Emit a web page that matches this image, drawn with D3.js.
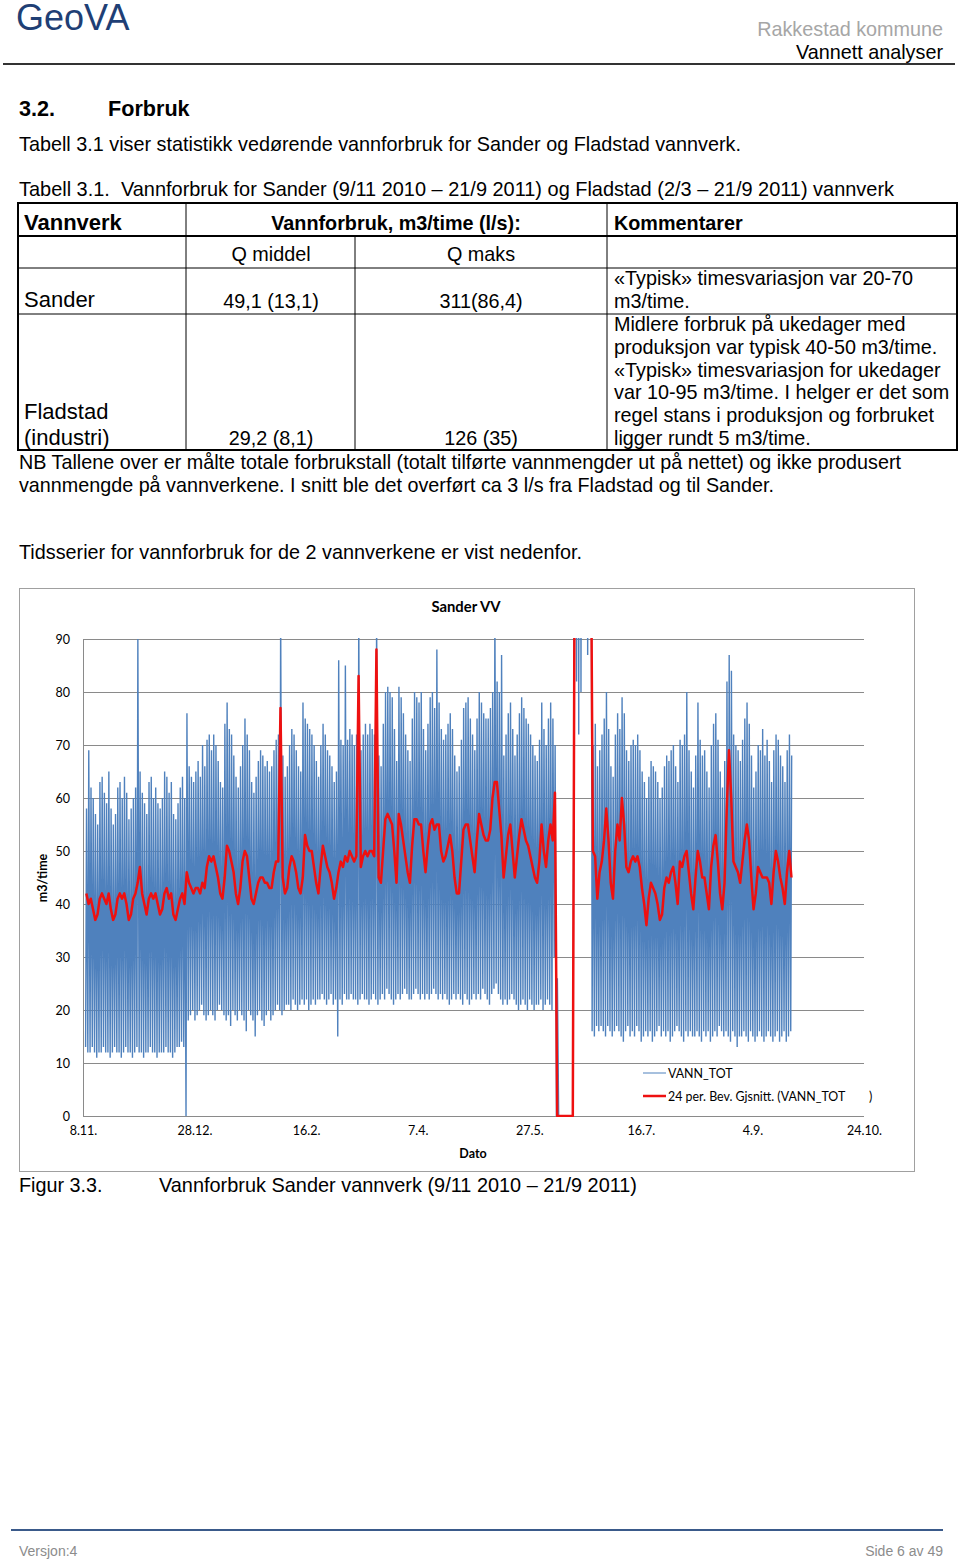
<!DOCTYPE html>
<html><head><meta charset="utf-8">
<script src="https://cdn.jsdelivr.net/npm/d3@7/dist/d3.min.js"></script>
<style>
html,body{margin:0;padding:0;background:#fff;}
svg{display:block;}
.doc{font-family:"Liberation Sans",Arial,sans-serif;fill:#000;}
.doc text{white-space:pre;}
.chart text{font-family:Lato,"Open Sans",sans-serif;}
</style></head>
<body>
<svg id="page" width="960" height="1560"></svg>
<script>
// ---------- DATA ----------
// Sander VV, hourly flow summarised per day from 9.11.2010 (day 1) to 21.9.2011 (day 317), m3/time
const startDate = "2010-11-09";
// daily night minimum of VANN_TOT
const vannMin = [
 13,12,12,13,12,11,12,  12,13,12,12,11,12,13,  12,12,11,12,13,12,12,  11,12,13,12,12,11,12,
 12,13,12,12,11,12,12,  12,13,12,12,11,12,13,  13,14,13,0,18,19,20,   18,19,20,21,19,18,19,
 20,19,18,20,21,20,19,  18,19,17,20,19,18,20,  19,18,16,20,19,18,15,  19,20,18,17,19,20,18,
 19,20,21,20,19,20,21,  21,20,22,21,20,21,22,  21,22,20,21,22,21,22,  22,23,22,21,22,23,21,
 22,15,22,21,23,22,22,  23,22,22,21,22,23,22,  22,21,22,23,22,21,22,  23,22,24,23,22,21,22,
 23,22,23,24,23,22,22,  23,24,23,22,23,22,23,  22,23,24,23,22,23,22,  23,22,21,22,23,22,23,
 22,21,23,22,21,22,23,  22,23,22,24,23,22,21,  23,24,25,23,22,21,22,  21,22,23,22,21,20,21,
 22,21,20,22,21,20,21,  21,22,20,21,22,21,20,  30,0,0,0,0,0,0,        0,0,110,82,72,80,120,
 140,87,100,16,15,17,16, 17,16,15,17,16,15,16, 17,16,15,14,16,17,15,  16,15,17,16,14,15,16,
 15,16,14,15,16,17,15,  16,15,16,14,15,16,17,  16,15,14,16,15,16,15,  15,16,15,14,16,15,16,
 14,15,16,15,17,16,15,  16,15,14,16,15,13,15,  15,16,15,14,16,15,14,  15,16,15,14,15,16,15,
 14,15,16,14,15,16,14,  15,16
];
// daily peak of VANN_TOT
const vannMax = [
 58,69,62,60,57,55,63,  64,61,59,65,58,55,57,  62,63,60,64,61,56,58,  60,62,90,65,61,59,57,
 63,64,60,62,59,58,60,  65,64,61,63,57,56,59,  62,64,60,76,66,64,63,  65,67,64,70,66,71,72,
 69,72,70,67,63,62,74,  78,73,72,68,64,62,66,  70,75,72,69,63,61,64,  67,69,68,66,67,65,66,
 69,71,72,95,68,64,66,  70,73,72,69,66,65,78,  75,74,73,72,70,67,64,  70,74,72,69,68,66,63,
 65,86,71,70,85,71,73,  72,70,72,95,69,72,74,  72,74,73,72,95,68,66,  74,80,81,80,79,73,67,
 81,79,76,72,69,67,75,  80,79,78,80,73,69,74,  79,80,77,88,78,73,71,  72,74,76,73,68,65,66,
 71,77,78,79,75,72,69,  75,80,78,76,75,75,77,  80,95,82,80,87,68,72,  76,78,73,68,72,76,79,
 77,75,74,72,70,68,67,  71,78,73,70,75,78,75,  70,26,0,0,0,0,0,       0,0,180,200,311,190,210,
 230,160,170,70,74,66,69, 72,75,80,73,66,64,72, 76,73,79,76,69,67,70, 71,70,72,69,65,63,60,
 64,67,66,65,63,60,62,  66,68,67,69,70,66,63,  71,70,72,80,69,65,62,  68,78,71,68,69,65,62,
 70,74,76,71,65,62,67,  82,87,84,72,70,69,67,  71,75,78,74,68,62,65,  70,69,73,68,71,67,63,
 69,72,71,68,66,63,69,  72,68
];
// 24 per. moving average (daily reading)
const snitt = [
 42,40,41,39,37,38,41,  42,41,40,42,39,37,38,  41,42,41,42,40,37,38,  41,42,44,47,42,40,38,
 41,42,41,42,40,38,39,  42,43,41,42,38,37,39,  41,42,40,46,44,43,42,  43,43,42,44,43,47,49,
 48,49,47,45,42,41,45,  51,50,48,46,42,40,43,  48,50,49,45,41,40,42,  44,45,45,44,44,43,43,
 46,48,48,77,45,42,43,  47,49,48,46,43,42,45,  53,51,50,50,47,44,42,  47,51,49,47,46,44,41,
 43,46,48,47,49,48,50,  49,48,49,83,47,49,50,  49,50,50,49,88,45,44,  50,56,57,56,55,50,44,
 57,55,52,49,46,44,51,  56,56,55,55,50,46,51,  55,56,54,55,55,50,48,  49,51,53,50,45,42,42,
 48,54,55,55,52,49,46,  52,57,55,53,52,52,54,  60,63,63,58,53,45,49,  53,55,50,45,49,53,56,
 54,52,51,49,47,45,44,  48,55,50,47,52,55,52,  61,0,0,0,0,0,0,        0,0,130,140,150,135,145,
 150,140,120,50,49,41,46, 48,52,58,52,44,41,50, 55,52,60,55,47,46,48, 49,48,49,47,43,40,36,
 41,44,43,42,40,37,38,  43,45,44,46,47,44,40,  48,47,49,50,46,42,39,  45,50,48,45,45,42,39,
 47,51,53,48,42,39,44,  58,69,60,48,47,46,44,  48,52,55,52,45,39,42,  47,46,45,45,45,44,40,
 46,50,48,45,43,40,46,  50,45
];
const yTicks = [0,10,20,30,40,50,60,70,80,90];
const xTickDates = ["2010-11-08","2010-12-28","2011-02-16","2011-04-07","2011-05-27","2011-07-16","2011-09-04","2011-10-24"];
const seriesNames = ["VANN_TOT","24 per. Bev. Gjsnitt. (VANN_TOT"];

// ---------- PAGE ----------
const svg = d3.select("#page");
const doc = svg.append("g").attr("class","doc");
const FS = 19.8;
function txt(x,y,s,opts={}){
  const t = doc.append("text").attr("x",x).attr("y",y).text(s)
    .attr("font-size",opts.size||FS);
  if(opts.weight) t.attr("font-weight",opts.weight);
  if(opts.fill) t.style("fill",opts.fill);
  if(opts.anchor) t.attr("text-anchor",opts.anchor);
  if(opts.len) t.attr("textLength",opts.len).attr("lengthAdjust","spacingAndGlyphs");
  return t;
}
// header
txt(16,30,"GeoVA",{size:36,fill:"#1f3f75"});
txt(943,36,"Rakkestad kommune",{fill:"#a6a6a6",anchor:"end"});
txt(943,59,"Vannett analyser",{anchor:"end"});
doc.append("line").attr("x1",3).attr("x2",955).attr("y1",64).attr("y2",64).attr("stroke","#333").attr("stroke-width",2);

txt(19,116,"3.2.",{size:21.6,weight:"bold"});
txt(108,116,"Forbruk",{size:21.6,weight:"bold"});
txt(19,151,"Tabell 3.1 viser statistikk vedørende vannforbruk for Sander og Fladstad vannverk.",{len:722});
txt(19,196,"Tabell 3.1.  Vannforbruk for Sander (9/11 2010 – 21/9 2011) og Fladstad (2/3 – 21/9 2011) vannverk",{len:875});

// table
const tl = doc.append("g").attr("stroke","#000").attr("fill","none");
function ln(x1,y1,x2,y2,w){tl.append("line").attr("x1",x1).attr("y1",y1).attr("x2",x2).attr("y2",y2).attr("stroke-width",w);}
ln(17,203,958,203,2); ln(17,236,958,236,2); ln(18,268,957,268,1); ln(18,314,957,314,1); ln(17,450,958,450,2);
ln(18,203,18,450,2); ln(957,203,957,450,2); ln(186,203,186,450,1); ln(607,203,607,450,1); ln(355,236,355,450,1);
txt(24,230,"Vannverk",{size:22,weight:"bold"});
txt(396,230,"Vannforbruk, m3/time (l/s):",{weight:"bold",anchor:"middle"});
txt(614,230,"Kommentarer",{weight:"bold"});
txt(271,261,"Q middel",{anchor:"middle"});
txt(481,261,"Q maks",{anchor:"middle"});
txt(24,307,"Sander",{size:22});
txt(271,308,"49,1 (13,1)",{anchor:"middle"});
txt(481,308,"311(86,4)",{anchor:"middle"});
txt(614,285,"«Typisk» timesvariasjon var 20-70");
txt(614,308,"m3/time.");
txt(24,419,"Fladstad",{size:22});
txt(24,445,"(industri)",{size:22});
txt(271,445,"29,2 (8,1)",{anchor:"middle"});
txt(481,445,"126 (35)",{anchor:"middle"});
["Midlere forbruk på ukedager med","produksjon var typisk 40-50 m3/time.","«Typisk» timesvariasjon for ukedager",
 "var 10-95 m3/time. I helger er det som","regel stans i produksjon og forbruket","ligger rundt 5 m3/time."]
 .forEach((s,i)=>txt(614,331+i*22.8,s));
txt(19,469,"NB Tallene over er målte totale forbrukstall (totalt tilførte vannmengder ut på nettet) og ikke produsert",{len:882});
txt(19,492,"vannmengde på vannverkene. I snitt ble det overført ca 3 l/s fra Fladstad og til Sander.",{len:755});
txt(19,559,"Tidsserier for vannforbruk for de 2 vannverkene er vist nedenfor.",{len:563});
txt(19,1192,"Figur 3.3.");
txt(159,1192,"Vannforbruk Sander vannverk (9/11 2010 – 21/9 2011)",{len:478});
// footer
doc.append("line").attr("x1",11).attr("x2",943).attr("y1",1530).attr("y2",1530).attr("stroke","#3a5a8a").attr("stroke-width",2);
txt(19,1556,"Versjon:4",{size:14,fill:"#8c8c8c"});
txt(943,1556,"Side 6 av 49",{size:14,fill:"#8c8c8c",anchor:"end"});

// ---------- CHART ----------
const ch = svg.append("g").attr("class","chart");
ch.append("rect").attr("x",19.5).attr("y",588.5).attr("width",895).attr("height",583)
  .attr("fill","#fff").attr("stroke","#a0a0a0").attr("stroke-width",1);
const plot = {l:83,r:864,t:639,b:1116};
const parse = d3.utcParse("%Y-%m-%d");
const x = d3.scaleUtc().domain([parse(xTickDates[0]),parse(xTickDates[xTickDates.length-1])]).range([plot.l,plot.r]);
const y = d3.scaleLinear().domain([0,90]).range([plot.b,plot.t]);

// gridlines
ch.append("g").selectAll("line").data(yTicks).join("line")
  .attr("x1",plot.l).attr("x2",plot.r).attr("y1",d=>Math.round(y(d))+0.5).attr("y2",d=>Math.round(y(d))+0.5)
  .attr("stroke","#8a8a8a").attr("stroke-width",1);
ch.append("line").attr("x1",plot.l+0.5).attr("x2",plot.l+0.5).attr("y1",plot.t).attr("y2",plot.b)
  .attr("stroke","#8a8a8a");

// y axis labels
const yAx = ch.append("g").attr("transform",`translate(${plot.l},0)`)
  .call(d3.axisLeft(y).tickValues(yTicks).tickSize(0).tickPadding(13));
yAx.select(".domain").remove();
yAx.selectAll("text").attr("font-size",12.5).attr("fill","#000").attr("font-family","Lato,sans-serif");
// x axis labels
const xAx = ch.append("g").attr("transform",`translate(0,${plot.b})`)
  .call(d3.axisBottom(x).tickValues(xTickDates.map(parse)).tickFormat(d3.utcFormat("%-d.%-m.")).tickSize(0).tickPadding(10));
xAx.select(".domain").remove();
xAx.selectAll("text").attr("font-size",12.5).attr("fill","#000").attr("font-family","Lato,sans-serif");

// clip
svg.append("defs").append("clipPath").attr("id","pc").append("rect")
  .attr("x",plot.l).attr("y",plot.t-1).attr("width",plot.r-plot.l).attr("height",plot.b-plot.t+2);

const day0 = parse(startDate);
const HOUR = 3600*1000, DAY = 24*HOUR;
const bluePts = [];
vannMin.forEach((v,i)=>{
  bluePts.push([new Date(+day0 + i*DAY + 4*HOUR), v]);
  bluePts.push([new Date(+day0 + i*DAY + 14*HOUR), vannMax[i]]);
});
const redPts = snitt.map((v,i)=>[new Date(+day0 + i*DAY + 12*HOUR), v]);
const line = d3.line().x(d=>x(d[0])).y(d=>y(d[1]));
const g = ch.append("g").attr("clip-path","url(#pc)");
g.append("path").attr("d",line(bluePts)).attr("fill","none").attr("stroke","#4f81bd").attr("stroke-width",1.4);
g.append("path").attr("d",line(redPts)).attr("fill","none").attr("stroke","#ee1010").attr("stroke-width",2.5)
  .attr("stroke-linejoin","round");

// titles
ch.append("text").attr("x",466).attr("y",612).attr("text-anchor","middle").attr("font-size",14.8)
  .attr("font-weight","bold").text("Sander VV");
ch.append("text").attr("transform","translate(47,878) rotate(-90)").attr("text-anchor","middle")
  .attr("font-size",12.5).attr("font-weight","bold").text("m3/time");
ch.append("text").attr("x",473).attr("y",1158).attr("text-anchor","middle").attr("font-size",12.5)
  .attr("font-weight","bold").text("Dato");

// legend
const leg = ch.append("g");
const legColors = ["#4f81bd","#ee1010"], legW = [1,2.5];
seriesNames.forEach((s,i)=>{
  const yy = 1073 + i*23;
  leg.append("line").attr("x1",643).attr("x2",666).attr("y1",yy).attr("y2",yy)
    .attr("stroke",legColors[i]).attr("stroke-width",legW[i]);
  leg.append("text").attr("x",668).attr("y",yy+4.5).attr("font-size",12.4).text(s);
});
leg.append("text").attr("x",869).attr("y",1096+4.5).attr("font-size",12.4).text(")");
</script>
</body></html>
